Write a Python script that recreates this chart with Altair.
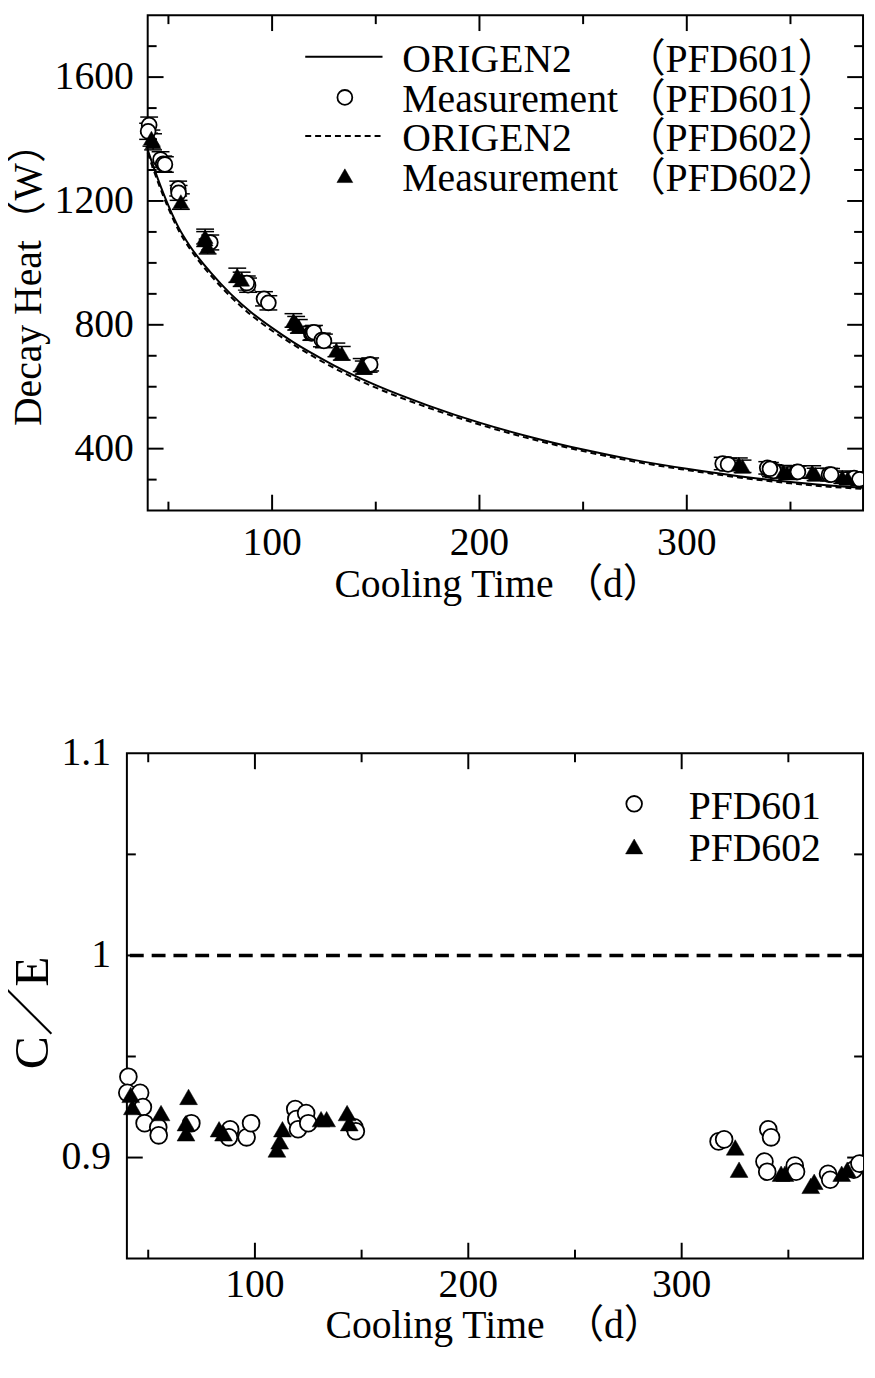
import altair as alt
import pandas as pd

FONT = "Liberation Serif, Noto Sans CJK JP"
FS = 40

# ---------------- data ----------------
# ORIGEN2 calculated decay heat (W) vs cooling time (d)
origen_t = [40, 45, 50, 55, 60, 65, 70, 80, 90, 100, 110, 120, 130, 140, 150,
            175, 200, 225, 250, 275, 300, 325, 350, 375, 385]
origen_601 = [1365, 1270, 1185, 1113, 1058, 1012, 972, 900, 840, 790, 745, 705, 668, 635, 605,
              540, 484, 437, 397, 363, 335, 311, 292, 278, 274]
origen_602 = [1355, 1260, 1176, 1104, 1049, 1003, 963, 891, 831, 781, 737, 697, 660, 627, 597,
              533, 478, 431, 392, 358, 331, 307, 288, 274, 270]

# Measurements PFD601
t601 = [40.7, 40.2, 46.2, 47.5, 48.3, 54.7, 54.9, 70.2, 88.4, 87.8, 96.1, 98.2,
        118.9, 119.4, 120.2, 124.0, 125.0, 146.6, 147.3,
        317.3, 319.9, 340.6, 341.9, 338.8, 340.1, 353.0, 353.6, 368.6, 369.6, 380.7, 383.3]
heat601 = [1445, 1425, 1334, 1320, 1318, 1240, 1226, 1066, 928, 935, 884, 871,
           772, 774, 776, 751, 748, 668, 672,
           352, 349, 329, 328, 338, 335, 324, 325, 316, 316, 305, 301]
err601 = [26, 26, 25, 25, 25, 24, 24, 24, 23, 23, 23, 23,
          22, 22, 22, 22, 22, 21, 21,
          20, 20, 20, 20, 20, 20, 20, 20, 20, 20, 20, 20]
ce601 = [0.940, 0.932, 0.932, 0.925, 0.917, 0.915, 0.911, 0.917, 0.914, 0.910, 0.910, 0.917,
         0.924, 0.919, 0.914, 0.922, 0.917, 0.915, 0.913,
         0.908, 0.909, 0.914, 0.910, 0.898, 0.893, 0.896, 0.893, 0.892, 0.889, 0.894, 0.897]

# Measurements PFD602
t602 = [41.8, 42.6, 56.0, 68.9, 67.7, 67.7, 83.2, 85.3, 110.3, 111.6, 112.9, 131.0, 133.6,
        143.2, 144.2, 325.1, 326.9, 346.6, 348.4, 360.5, 362.1, 375.0, 377.6]
heat602 = [1403, 1391, 1198, 1053, 1077, 1085, 960, 947, 814, 805, 795, 719, 708,
           670, 662, 350, 343, 326, 321, 325, 317, 308, 304]
err602 = [26, 26, 25, 24, 24, 24, 23, 23, 22, 22, 22, 22, 22,
          21, 21, 20, 20, 20, 20, 20, 20, 20, 20]
ce602 = [0.931, 0.925, 0.922, 0.930, 0.917, 0.912, 0.914, 0.912, 0.904, 0.908, 0.914, 0.919, 0.919,
         0.922, 0.917, 0.905, 0.894, 0.892, 0.892, 0.886, 0.888, 0.892, 0.894]

ce_reference = [1.0]

# legend / axis texts
legend_top_series = ["ORIGEN2", "Measurement", "ORIGEN2", "Measurement"]
legend_top_fuel = ["（PFD601）", "（PFD601）", "（PFD602）", "（PFD602）"]
legend_bottom = ["PFD601", "PFD602"]
x_title_top = "Cooling Time\u00a0（d）"
x_title_bottom = "Cooling Time\u00a0\u00a0（d）"
y_title_top = "Decay Heat（W）"
y_title_bottom = "C／E"

# axis ticks and tick labels
x_major = [100, 200, 300]
x_labels = ["100", "200", "300"]
x_minor = [50, 150, 250, 350]
heat_major = [400, 800, 1200, 1600]
heat_labels = ["400", "800", "1200", "1600"]
heat_minor = [300, 500, 600, 700, 900, 1000, 1100, 1300, 1400, 1500, 1700]
ce_major = [0.9, 1.0, 1.1]
ce_labels = ["0.9", "1", "1.1"]
ce_tick_major = [0.9, 1.0]
ce_minor = [0.95, 1.05]

# ---------------- tables ----------------
c601 = pd.DataFrame({"t": origen_t, "heat": origen_601})
c602 = pd.DataFrame({"t": origen_t, "heat": origen_602})
m601 = pd.DataFrame({"t": t601, "heat": heat601, "err": err601, "ce": ce601})
m602 = pd.DataFrame({"t": t602, "heat": heat602, "err": err602, "ce": ce602})
for m in (m601, m602):
    m["lo"] = m["heat"] - m["err"]
    m["hi"] = m["heat"] + m["err"]
ref_df = pd.DataFrame({"ce": ce_reference})
one = alt.InlineData(values=[{"k": 0}])

W, H1, H2 = 743, 500, 510
L1 = 21   # left edge of the upper plot frame inside the shared column

xs_top = alt.Scale(domain=[40, 385], range=[L1, W], nice=False, zero=False)
xs_bot = alt.Scale(domain=[40, 385], nice=False, zero=False)
ys_heat = alt.Scale(domain=[200, 1800], nice=False, zero=False)
ys_ce = alt.Scale(domain=[0.85, 1.1], nice=False, zero=False)

LEFT_GROUP = "datum.t < 200"
RIGHT_GROUP = "datum.t >= 200"


def xticks(vals, xsc, y_from, y_to):
    return alt.Chart(pd.DataFrame({"v": vals})).mark_rule(color="black", strokeWidth=2).encode(
        x=alt.X("v:Q", scale=xsc, axis=None), y=alt.value(y_from), y2=alt.value(y_to))


def yticks(vals, ysc, x_from, x_to):
    return alt.Chart(pd.DataFrame({"v": vals})).mark_rule(color="black", strokeWidth=2).encode(
        y=alt.Y("v:Q", scale=ysc, axis=None), x=alt.value(x_from), x2=alt.value(x_to))


def xlabels(vals, labs, xsc, y):
    return alt.Chart(pd.DataFrame({"v": vals, "lab": labs})).mark_text(
        font=FONT, fontSize=FS, align="center", baseline="top", color="black").encode(
        x=alt.X("v:Q", scale=xsc, axis=None), y=alt.value(y), text="lab:N")


def ylabels(vals, labs, ysc, x):
    return alt.Chart(pd.DataFrame({"v": vals, "lab": labs})).mark_text(
        font=FONT, fontSize=FS, align="right", baseline="middle", color="black").encode(
        y=alt.Y("v:Q", scale=ysc, axis=None), x=alt.value(x), text="lab:N")


def text_at(x, y, text, size=FS, align="left", baseline="middle", angle=0):
    return alt.Chart(one).mark_text(text=text, font=FONT, fontSize=size, align=align,
                                    baseline=baseline, angle=angle, color="black").encode(
        x=alt.value(x), y=alt.value(y))


def frame(x0, x1, h):
    return alt.Chart(one).mark_rect(fillOpacity=0, stroke="black", strokeWidth=2).encode(
        x=alt.value(x0), x2=alt.value(x1), y=alt.value(0), y2=alt.value(h))


def enc(xsc, ysc, yf):
    return dict(x=alt.X("t:Q", scale=xsc, axis=None), y=alt.Y(f"{yf}:Q", scale=ysc, axis=None))


def split(make):
    # points near the right frame are clipped by the frame, as in the original figure
    return [make(False).transform_filter(LEFT_GROUP), make(True).transform_filter(RIGHT_GROUP)]


def circles(df, xsc, ysc, yf, size):
    return split(lambda c: alt.Chart(df).mark_point(
        shape="circle", filled=True, fill="white", stroke="black", strokeWidth=1.8,
        size=size, opacity=1, clip=c).encode(**enc(xsc, ysc, yf)))


def triangles(df, xsc, ysc, yf, size):
    return split(lambda c: alt.Chart(df).mark_point(
        shape="triangle-up", filled=True, fill="black", stroke="black", strokeWidth=0.5,
        size=size, opacity=1, clip=c).encode(**enc(xsc, ysc, yf)))


def errbars(df):
    out = split(lambda c: alt.Chart(df).mark_rule(color="black", strokeWidth=1.5, clip=c).encode(
        x=alt.X("t:Q", scale=xs_top, axis=None),
        y=alt.Y("lo:Q", scale=ys_heat, axis=None), y2="hi:Q"))
    for f in ("lo", "hi"):
        out += split(lambda c, f=f: alt.Chart(df).mark_tick(
            orient="horizontal", size=18, thickness=1.5, color="black", opacity=1,
            clip=c).encode(**enc(xs_top, ys_heat, f)))
    return out


def leg_rule(x1, x2, y, dash=None):
    kw = dict(color="black", strokeWidth=2)
    if dash:
        kw["strokeDash"] = dash
    return alt.Chart(one).mark_rule(**kw).encode(x=alt.value(x1), x2=alt.value(x2),
                                                 y=alt.value(y))


def leg_point(x, y, shape, fill, size):
    return alt.Chart(one).mark_point(shape=shape, filled=True, fill=fill, stroke="black",
                                     strokeWidth=1.8 if fill == "white" else 0.5, size=size,
                                     opacity=1).encode(x=alt.value(x), y=alt.value(y))


# ---------------- top panel ----------------
top_layers = [
    frame(L1, W, H1),
    xticks(x_major, xs_top, H1, H1 - 16), xticks(x_minor, xs_top, H1, H1 - 9),
    xticks(x_major, xs_top, 0, 16), xticks(x_minor, xs_top, 0, 9),
    yticks(heat_major, ys_heat, L1, L1 + 16), yticks(heat_minor, ys_heat, L1, L1 + 9),
    yticks(heat_major, ys_heat, W, W - 16), yticks(heat_minor, ys_heat, W, W - 9),
    xlabels(x_major, x_labels, xs_top, H1 + 13),
    ylabels(heat_major, heat_labels, ys_heat, L1 - 14),
    text_at(375, H1 + 55, x_title_top, align="center", baseline="top"),
    text_at(-79, 262, y_title_top, align="center", baseline="bottom", angle=270),
    alt.Chart(c601).mark_line(color="black", strokeWidth=2, interpolate="monotone").encode(
        **enc(xs_top, ys_heat, "heat")),
    alt.Chart(c602).mark_line(color="black", strokeWidth=2, strokeDash=[6, 4],
                              interpolate="monotone").encode(**enc(xs_top, ys_heat, "heat")),
]
top_layers += errbars(m601) + errbars(m602)
top_layers += circles(m601, xs_top, ys_heat, "heat", 225)
top_layers += triangles(m602, xs_top, ys_heat, "heat", 256)

rows_y = [42, 83, 122, 162]
top_layers += [
    leg_rule(L1 + 159, L1 + 237, rows_y[0]),
    leg_point(L1 + 199, rows_y[1], "circle", "white", 225),
    leg_rule(L1 + 159, L1 + 237, rows_y[2], dash=[6, 4]),
    leg_point(L1 + 199, rows_y[3], "triangle-up", "black", 256),
]
for i in range(4):
    top_layers.append(text_at(L1 + 257, rows_y[i] + 3, legend_top_series[i]))
    top_layers.append(text_at(717, rows_y[i] + 3, legend_top_fuel[i], align="right"))

top = alt.layer(*top_layers).properties(width=W, height=H1)

# ---------------- bottom panel ----------------
bot_layers = [
    frame(0, W, H2),
    xticks(x_major, xs_bot, H2, H2 - 16), xticks(x_minor, xs_bot, H2, H2 - 9),
    xticks(x_major, xs_bot, 0, 16), xticks(x_minor, xs_bot, 0, 9),
    yticks(ce_tick_major, ys_ce, 0, 16), yticks(ce_minor, ys_ce, 0, 9),
    yticks(ce_tick_major, ys_ce, W, W - 16), yticks(ce_minor, ys_ce, W, W - 9),
    xlabels(x_major, x_labels, xs_bot, H2 + 7),
    ylabels(ce_major, ce_labels, ys_ce, -16),
    text_at(371, H2 + 48, x_title_bottom, align="center", baseline="top"),
    text_at(-70, 262, y_title_bottom, size=50, align="center", baseline="bottom", angle=270),
    alt.Chart(ref_df).mark_rule(color="black", strokeWidth=3.5, strokeDash=[14, 8]).encode(
        y=alt.Y("ce:Q", scale=ys_ce, axis=None)),
]
bot_layers += circles(m601, xs_bot, ys_ce, "ce", 289)
bot_layers += triangles(m602, xs_bot, ys_ce, "ce", 324)
bot_layers += [
    leg_point(512, 51, "circle", "white", 250),
    leg_point(512, 94, "triangle-up", "black", 300),
    text_at(567, 54, legend_bottom[0]),
    text_at(567, 97, legend_bottom[1]),
]
bottom = alt.layer(*bot_layers).properties(width=W, height=H2)

chart = alt.vconcat(top, bottom, spacing=130).properties(padding=0).configure_view(
    stroke=None)

chart.save("out.html", embed_options={"renderer": "svg", "actions": False})
